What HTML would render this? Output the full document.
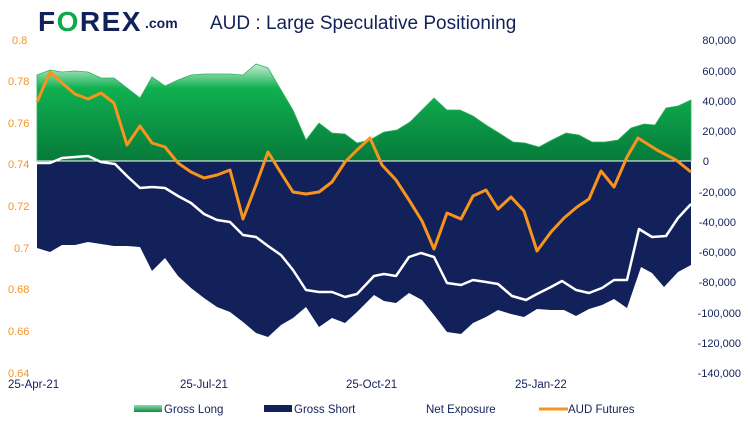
<!DOCTYPE html>
<html><head><meta charset="utf-8"><style>
body{margin:0;background:#fff;width:748px;height:423px;overflow:hidden;font-family:"Liberation Sans",sans-serif}
</style></head><body>
<svg width="748" height="423" viewBox="0 0 748 423" xmlns="http://www.w3.org/2000/svg" font-family="Liberation Sans, sans-serif">
<defs>
<linearGradient id="g" x1="0" y1="0" x2="0" y2="1">
<stop offset="0" stop-color="#c8ecd4"/><stop offset="0.25" stop-color="#10b050"/><stop offset="1" stop-color="#067a3a"/>
</linearGradient>
<linearGradient id="lg" x1="0" y1="0" x2="0" y2="1">
<stop offset="0" stop-color="#8fdcaa"/><stop offset="1" stop-color="#0a8a40"/>
</linearGradient>
</defs>
<text x="38" y="31" font-size="28" font-weight="bold" fill="#13215a" letter-spacing="1.5" textLength="104" lengthAdjust="spacingAndGlyphs">F<tspan fill="#10a84a">O</tspan>REX</text>
<text x="145" y="28" font-size="14" font-weight="bold" fill="#13215a">.com</text>
<text x="210" y="29" font-size="19" fill="#13215a">AUD : Large Speculative Positioning</text>
<g font-size="11" fill="#f7941d">
<text x="12" y="44">0.8</text><text x="8" y="85">0.78</text><text x="8" y="127">0.76</text><text x="8" y="168">0.74</text><text x="8" y="210">0.72</text><text x="14" y="252">0.7</text><text x="8" y="293">0.68</text><text x="8" y="335">0.66</text><text x="8" y="377">0.64</text>
</g>
<g font-size="11" fill="#13215a" text-anchor="end">
<text x="736" y="44">80,000</text><text x="736" y="75">60,000</text><text x="736" y="105">40,000</text><text x="736" y="135">20,000</text><text x="709" y="165">0</text><text x="736" y="196">-20,000</text><text x="736" y="226">-40,000</text><text x="736" y="256">-60,000</text><text x="736" y="286">-80,000</text><text x="741" y="317">-100,000</text><text x="741" y="347">-120,000</text><text x="741" y="377">-140,000</text>
</g>
<polygon fill="url(#g)" stroke="#2fb35f" stroke-width="0.8" points="37,161 37,75 50,70 62,72 75,71 88,72 101,78 114,78 127,88 140,98 152,77 165,86 178,80 191,75 204,74 217,74 230,74 243,75 256,64 268,68 281,90 293,110 306,140 319,123 332,133 345,134 357,143 370,140 384,132 397,130 410,122 420,112 434,98 447,110 460,110 473,116 486,125 499,133 513,142 525,143 539,147 552,140 566,133 579,135 592,142 605,142 618,140 631,128 644,124 655,125 666,108 678,106 691,100 691,161"/>
<polygon fill="#13215a" points="37,161 691,161 691,265 678,272 664,287 652,273 641,267 627,308 614,299 602,305 589,309 576,316 564,310 551,310 537,309 524,317 511,314 498,310 486,317 473,323 461,334 447,332 434,315 422,300 409,293 396,303 384,301 374,295 357,312 345,323 332,318 319,327 306,307 293,318 281,325 268,337 256,333 243,322 230,312 217,307 204,298 191,288 178,276 165,258 152,271 140,247 127,246 114,246 101,244 88,242 75,245 62,245 50,252 37,248"/>
<line x1="37" y1="161" x2="691" y2="161" stroke="#fff" stroke-width="1"/>
<polyline fill="none" stroke="#fff" stroke-width="2.5" stroke-linejoin="round" points="37,163 50,163 62,158 88,156 101,162 115,164 128,177 140,188 152,187 165,188 178,196 191,203 204,214 217,220 230,222 243,235 256,237 268,246 281,255 293,270 306,290 319,292 332,292 345,297 357,294 374,276 384,274 396,276 409,257 421,253 434,257 447,283 461,285 473,280 486,282 498,284 512,296 526,300 537,294 551,287 562,281 576,290 589,293 602,288 614,280 627,280 639,229 652,237 666,236 678,218 691,204"/>
<polyline fill="none" stroke="#f7941d" stroke-width="3" stroke-linejoin="round" points="37,102 50,72 62,83 75,94 88,99 101,93 114,103 127,145 140,126 152,143 165,147 178,163 191,172 204,178 217,175 230,170 243,219 256,185 268,152 281,173 293,192 306,194 319,192 332,182 345,162 357,150 370,138 382,165 396,180 409,200 422,221 434,249 447,213 461,219 473,196 486,190 498,209 511,197 524,211 537,251 551,232 564,218 577,207 589,199 601,171 614,187 627,157 638,138 657,150 676,160 691,172"/>
<g font-size="11.5" fill="#13215a">
<text x="8" y="388">25-Apr-21</text><text x="180" y="388">25-Jul-21</text><text x="346" y="388">25-Oct-21</text><text x="515" y="388">25-Jan-22</text>
</g>
<g font-size="11.5" fill="#13215a">
<rect x="134" y="405" width="28" height="7" fill="url(#lg)"/><text x="164" y="413">Gross Long</text>
<rect x="264" y="405" width="28" height="7" fill="#13215a"/><text x="294" y="413">Gross Short</text>
<text x="426" y="413">Net Exposure</text>
<line x1="539" y1="409" x2="568" y2="409" stroke="#f7941d" stroke-width="3"/><text x="568" y="413">AUD Futures</text>
</g>
</svg>
</body></html>
